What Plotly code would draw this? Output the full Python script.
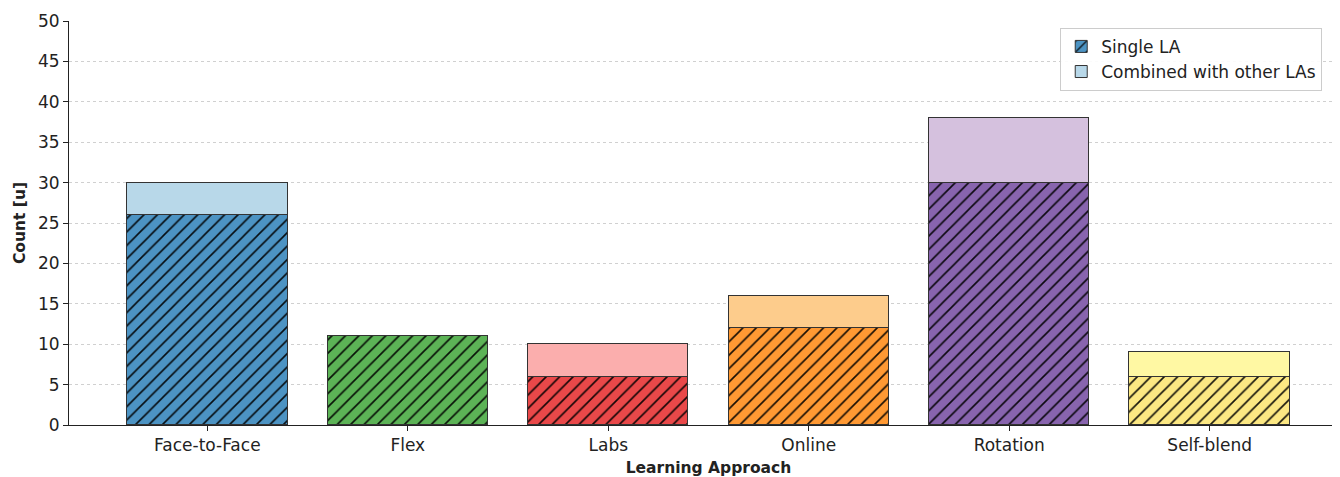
import plotly.graph_objects as go

categories = ["Face-to-Face", "Flex", "Labs", "Online", "Rotation", "Self-blend"]
single_la = [26, 11, 6, 12, 30, 6]
total = [30, 11, 10, 16, 38, 9]
combined = [t - s for t, s in zip(total, single_la)]

single_colors = ["#4c93c3", "#5cb356", "#e94849", "#ff9933", "#8864ae", "#fce883"]
combined_colors = ["#b8d8e9", "#c1e5a1", "#fbaead", "#fdcc8c", "#d5c1de", "#fff8a3"]

FONT = "DejaVu Sans"
n = len(categories)

fig = go.Figure()
for i in range(n):
    fig.add_trace(go.Bar(
        x=[i], y=[single_la[i]], name="Single LA", width=0.8,
        legendgroup="single", showlegend=(i == 0),
        marker=dict(color=single_colors[i], line=dict(color="#333333", width=1),
                    pattern=dict(shape="/", fgcolor="#000000", fgopacity=0.9,
                                 size=9.5, solidity=0.17, fillmode="overlay")),
    ))
for i in range(n):
    fig.add_trace(go.Bar(
        x=[i], y=[combined[i]], name="Combined with other LAs", width=0.8,
        legendgroup="combined", showlegend=(i == 0),
        marker=dict(color=combined_colors[i], line=dict(color="#333333", width=1)),
    ))

fig.update_layout(
    barmode="stack",
    width=1340, height=469,
    margin=dict(l=61, r=0, t=13, b=52),
    plot_bgcolor="white", paper_bgcolor="white",
    font=dict(family=FONT, size=17, color="#222222"),
    bargap=0,
    legend=dict(x=0.775, y=0.983, xanchor="left", yanchor="top",
                bordercolor="#cccccc", borderwidth=1, bgcolor="rgba(255,255,255,0.9)",
                font=dict(size=17, family=FONT), traceorder="normal"),
    xaxis=dict(
        range=[-0.69, 5.69], tickmode="array", tickvals=list(range(n)),
        ticktext=categories, showgrid=False, showline=True, linecolor="#222222",
        ticks="outside", ticklen=5, tickcolor="#222222", zeroline=False,
        title=dict(text="<b>Learning Approach</b>", font=dict(size=15.5, family=FONT), standoff=7),
    ),
    yaxis=dict(
        range=[0, 50], dtick=5, showgrid=True, gridcolor="#d0d0d0", griddash="dot",
        showline=True, linecolor="#222222", ticks="outside", ticklen=5, tickcolor="#222222",
        zeroline=False,
        title=dict(text="<b>Count [u]</b>", font=dict(size=15.5, family=FONT), standoff=8),
    ),
)

fig.write_html("out.html")
